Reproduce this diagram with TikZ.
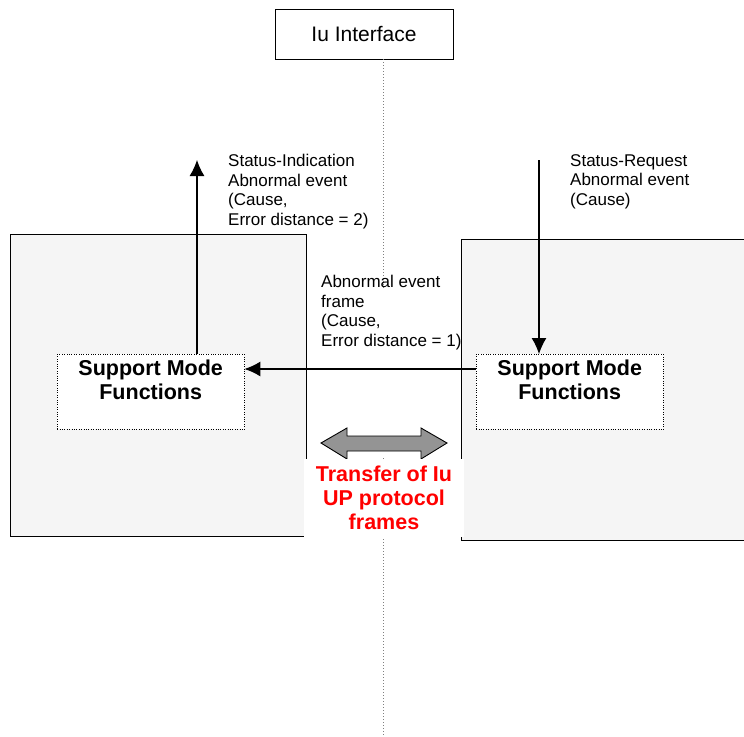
\documentclass[tikz,border=0pt]{standalone}
\usepackage{fontspec}
\setmainfont{Liberation Sans}
\usetikzlibrary{arrows.meta,positioning}
\tikzset{
  entity/.style={draw, line width=0.9pt, fill=black!4},
  smfbox/.style={draw, dotted, fill=white, minimum width=187pt, minimum height=75pt, inner sep=0pt},
  smftext/.style={font=\fontsize{21.5}{24}\selectfont\bfseries, align=center, inner sep=0pt},
  note/.style={font=\fontsize{17}{19.5}\selectfont, align=left, inner sep=0pt},
  sig/.style={line width=1.2pt, -{Latex[length=16pt,width=15pt]}}
}
\begin{document}
\begin{tikzpicture}[x=1pt, y=-1pt]
    \useasboundingbox (0,0) rectangle (744,736);
    \clip (0,0) rectangle (744,736);

    % Interface and its dotted line
    \node[draw, line width=0.8pt, minimum width=178pt, minimum height=50pt,
          font=\fontsize{21}{24}\selectfont] (iu) at (364,34) {Iu Interface};
    \coordinate (iuend) at (383,736);
    \draw[gray, dotted, line width=1pt] (iu.south -| iuend) -- (iuend);

    % The two peer entities
    \draw[entity] (10,234) rectangle (306,536);
    \draw[entity] (461,239) rectangle (760,540);
    \fill[white] (307,290) rectangle (460,458);

    % Support mode functions
    \node[smfbox, anchor=north west] (smfL) at (57,354) {};
    \node[smfbox, anchor=north west] (smfR) at (476,354) {};
    \node[smftext, below=6pt] at (smfL.north) {Support Mode\\Functions};
    \node[smftext, below=6pt] at (smfR.north) {Support Mode\\Functions};

    % Signals
    \coordinate (indL) at (197,160);
    \coordinate (reqR) at (539,160);
    \draw[sig] (smfL.north -| indL) -- (indL);
    \draw[sig] (reqR) -- (smfR.north -| reqR);
    \draw[sig] (smfR.west |- 0,369) -- (smfL.east |- 0,369);

    \node[note, anchor=north west] (indtxt) at (228,154)
        {Status-Indication\\Abnormal event\\(Cause,\\Error distance = 2)};
    \node[note, anchor=north west] (reqtxt) at (570,154)
        {Status-Request\\Abnormal event\\(Cause)};
    \node[note, anchor=north west] (frametxt) at (321,275)
        {Abnormal event\\frame\\(Cause,\\Error distance = 1)};
    \draw[line width=0.9pt] (461,239) -- (461,458);

    % Transfer of frames
    \draw[fill=black!42, line width=0.9pt] (321,443) -- (347,428) -- (347,436) -- (421,436)
        -- (421,428) -- (447,443) -- (421,459) -- (421,451) -- (347,451) -- (347,459) -- cycle;
    \node[fill=white, minimum width=160pt, minimum height=78pt, inner sep=0pt,
          text=red, font=\fontsize{21.5}{24}\selectfont\bfseries, align=center]
        (transfer) at (384,498) {Transfer of Iu\\UP protocol\\frames};
\end{tikzpicture}
\end{document}
